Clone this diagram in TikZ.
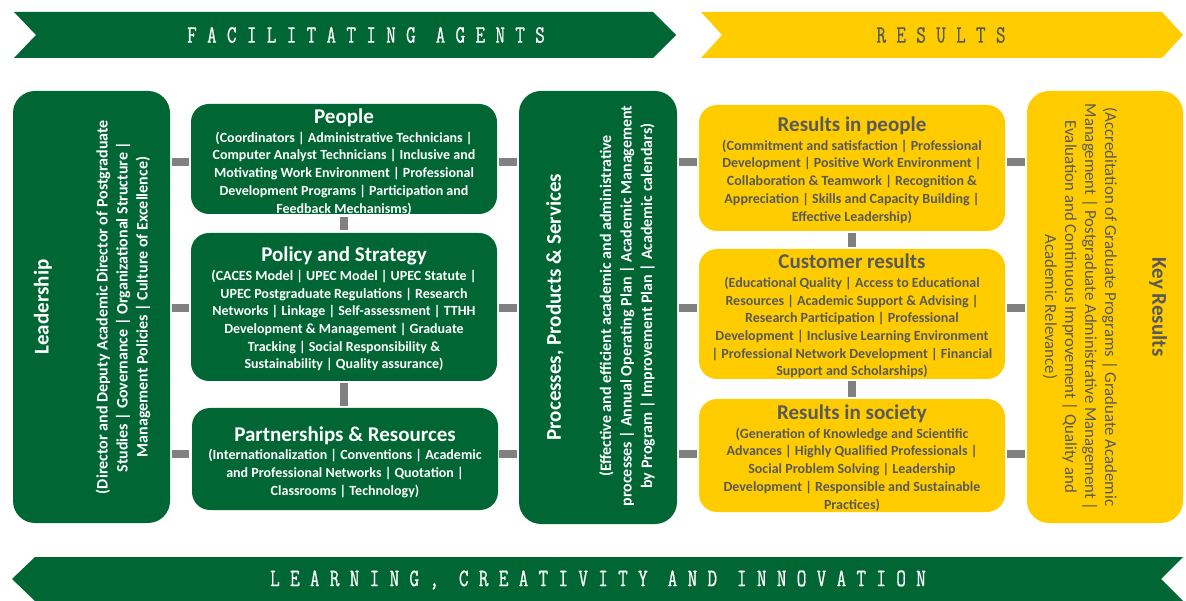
\documentclass[tikz,border=0pt]{standalone}
\usepackage{xcolor}
\usepackage{fontspec}
\setmainfont{Carlito}
\newfontfamily\bannerfont[FakeStretch=0.75,FakeBold=0.6,LetterSpace=41]{Latin Modern Mono}
\definecolor{ugreen}{HTML}{006633}
\definecolor{uyellow}{HTML}{FFCC00}
\definecolor{ugrey}{HTML}{808080}
\definecolor{utext}{HTML}{595959}
\newcommand{\boxtitle}[1]{{\fontsize{21}{22}\selectfont\bfseries #1}}

\tikzset{
  gbox/.style={fill=ugreen, rounded corners=18pt, inner sep=0pt},
  ybox/.style={fill=uyellow, rounded corners=18pt, inner sep=0pt},
  gtext/.style={text=white, align=center, inner sep=0pt, font=\fontsize{14}{17.7}\selectfont\bfseries},
  ytext/.style={text=utext, align=center, inner sep=0pt, font=\fontsize{14}{17.7}\selectfont\bfseries},
  link/.style={ugrey, line width=8.5pt, shorten <=2pt, shorten >=2pt},
  banner/.style={inner sep=0pt, font=\bannerfont\fontsize{25}{25}\selectfont}
}

\begin{document}
\begin{tikzpicture}[x=1pt, y=-1pt]
  \useasboundingbox (0,0) rectangle (1186,601);

  \fill[ugreen] (14,12) -- (653,12) -- (676,35) -- (653,58) -- (14,58) -- (36,35) -- cycle;
  \fill[uyellow] (701,12) -- (1162,12) -- (1183,35) -- (1162,58) -- (701,58) -- (722,35) -- cycle;
  \fill[ugreen] (12,579) -- (35,557) -- (1183,557) -- (1161,579) -- (1183,601) -- (35,601) -- cycle;
  \node[banner, text=white] (agents) at (366,35) {FACILITATING AGENTS};
  \node[banner, text=utext] (results) at (941,35) {RESULTS};
  \node[banner, text=white] (learning) at (598,580) {LEARNING, CREATIVITY AND INNOVATION};

  \node[gbox, rounded corners=22pt, minimum width=157pt, minimum height=432pt] (lead) at (91.5,307) {};
  \node[gbox, minimum width=306pt, minimum height=110pt] (ppl) at (344,159) {};
  \node[gbox, minimum width=306pt, minimum height=148pt] (pol) at (344,307) {};
  \node[gbox, minimum width=306pt, minimum height=102pt] (part) at (345,459) {};
  \node[gbox, rounded corners=22pt, minimum width=158pt, minimum height=433pt] (proc) at (598,307.5) {};
  \node[ybox, minimum width=306pt, minimum height=126pt] (rppl) at (852,168) {};
  \node[ybox, minimum width=306pt, minimum height=130pt] (cust) at (852,314) {};
  \node[ybox, minimum width=306pt, minimum height=113pt] (soc) at (852,455.5) {};
  \node[ybox, rounded corners=22pt, minimum width=156pt, minimum height=432pt] (key) at (1105,307) {};

  \coordinate (row1) at (0,162);
  \coordinate (row2) at (0,308);
  \coordinate (row3) at (0,454);
  \foreach \r in {row1,row2,row3} {
    \draw[link] (lead.east |- \r) -- (ppl.west |- \r);
    \draw[link] (ppl.east |- \r) -- (proc.west |- \r);
    \draw[link] (proc.east |- \r) -- (rppl.west |- \r);
    \draw[link] (rppl.east |- \r) -- (key.west |- \r);
  }
  \draw[link, shorten <=3pt, shorten >=3pt] (ppl.south) -- (pol.north);
  \draw[link] (pol.south) -- (part.north -| pol.south);
  \draw[link] (rppl.south) -- (cust.north);
  \draw[link] (cust.south) -- (soc.north);

  \node[gtext, rotate=90, font=\fontsize{21}{22}\selectfont\bfseries] (lead-t) at (43,307) {Leadership};
  \node[gtext, rotate=90, font=\fontsize{16}{20}\selectfont\bfseries] (lead-b) at (123,307)
    {(Director and Deputy Academic Director of Postgraduate\\
     Studies | Governance | Organizational Structure |\\
     Management Policies | Culture of Excellence)};

  \node[gtext] (ppl-t) at (344,162) {\boxtitle{People}\\[1pt]
    (Coordinators | Administrative Technicians |\\
    Computer Analyst Technicians | Inclusive and\\
    Motivating Work Environment | Professional\\
    Development Programs | Participation and\\
    Feedback Mechanisms)};
  \node[gtext] (pol-t) at (344,309) {\boxtitle{Policy and Strategy}\\[1pt]
    (CACES Model | UPEC Model | UPEC Statute |\\
    UPEC Postgraduate Regulations | Research\\
    Networks | Linkage | Self-assessment | TTHH\\
    Development \& Management | Graduate\\
    Tracking | Social Responsibility \&\\
    Sustainability | Quality assurance)};
  \node[gtext] (part-t) at (345,462) {\boxtitle{Partnerships \& Resources}\\[1pt]
    (Internationalization | Conventions | Academic\\
    and Professional Networks | Quotation |\\
    Classrooms | Technology)};

  \node[gtext, rotate=90, font=\fontsize{21}{22}\selectfont\bfseries] (proc-t) at (555,307) {Processes, Products \& Services};
  \node[gtext, rotate=90, font=\fontsize{16}{20.5}\selectfont\bfseries] (proc-b) at (627,306)
    {(Effective and efficient academic and administrative\\
     processes | Annual Operating Plan | Academic Management\\
     by Program | Improvement Plan | Academic calendars)};

  \node[ytext] (rppl-t) at (852,170) {\boxtitle{Results in people}\\[1pt]
    (Commitment and satisfaction | Professional\\
    Development | Positive Work Environment |\\
    Collaboration \& Teamwork | Recognition \&\\
    Appreciation | Skills and Capacity Building |\\
    Effective Leadership)};
  \node[ytext] (cust-t) at (852,316) {\boxtitle{Customer results}\\[1pt]
    (Educational Quality | Access to Educational\\
    Resources | Academic Support \& Advising |\\
    Research Participation | Professional\\
    Development | Inclusive Learning Environment\\
    | Professional Network Development | Financial\\
    Support and Scholarships)};
  \node[ytext] (soc-t) at (852,458) {\boxtitle{Results in society}\\[1pt]
    (Generation of Knowledge and Scientific\\
    Advances | Highly Qualified Professionals |\\
    Social Problem Solving | Leadership\\
    Development | Responsible and Sustainable\\
    Practices)};

  \node[ytext, rotate=-90, font=\fontsize{21}{22}\selectfont\bfseries] (key-t) at (1158,307) {Key Results};
  \node[ytext, rotate=-90, font=\fontsize{16.8}{20}\selectfont] (key-b) at (1080,307)
    {(Accreditation of Graduate Programs | Graduate Academic\\
     Management | Postgraduate Administrative Management |\\
     Evaluation and Continuous Improvement | Quality and\\
     Academic Relevance)};
\end{tikzpicture}
\end{document}
